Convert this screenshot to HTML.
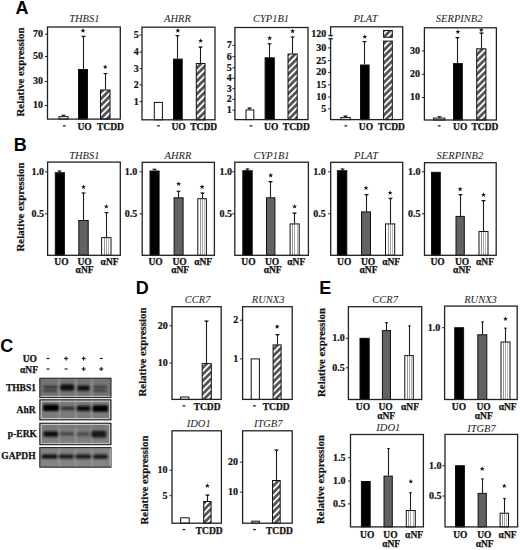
<!DOCTYPE html>
<html><head><meta charset="utf-8"><style>
html,body{margin:0;padding:0;background:#fff;}
body{width:520px;height:550px;overflow:hidden;}
svg{display:block;}
</style></head><body>
<svg width="520" height="550" viewBox="0 0 520 550">
<rect width="520" height="550" fill="#fff"/>
<defs>
<pattern id="hatch" patternUnits="userSpaceOnUse" width="4.6" height="4.6" patternTransform="rotate(45)"><rect width="4.6" height="4.6" fill="#555"/><rect x="0" y="0" width="1.8" height="4.6" fill="#fff"/></pattern>
<pattern id="vstripe" patternUnits="userSpaceOnUse" width="3.5" height="10"><rect width="3.5" height="10" fill="#fff"/><rect x="0" width="0.9" height="10" fill="#aaa"/></pattern>
<filter id="blur" x="-20%" y="-50%" width="140%" height="200%"><feGaussianBlur stdDeviation="0.8"/></filter>
</defs>
<text x="84.3" y="21.5" font-family='"Liberation Serif", serif' font-style="italic" font-size="10.5" text-anchor="middle" fill="#222">THBS1</text>
<line x1="63.5" y1="116.2" x2="63.5" y2="114.8" stroke="#1a1a1a" stroke-width="1.1"/>
<path d="M61.0,114.7 L66.0,114.7 L64.625,116.1 L62.375,116.1 Z" fill="#1a1a1a"/>
<rect x="59.0" y="116.7" width="9.0" height="2.3999999999999915" fill="#fff" stroke="#111" stroke-width="1"/>
<line x1="83.5" y1="69" x2="83.5" y2="35.9" stroke="#1a1a1a" stroke-width="1.1"/>
<path d="M81.0,35.8 L86.0,35.8 L84.625,37.199999999999996 L82.375,37.199999999999996 Z" fill="#1a1a1a"/>
<rect x="78.5" y="69.5" width="9" height="49.599999999999994" fill="#000" stroke="#111" stroke-width="1"/>
<polygon points="83.00,28.10 83.61,29.86 85.47,29.90 83.99,31.02 84.53,32.80 83.00,31.74 81.47,32.80 82.01,31.02 80.53,29.90 82.39,29.86" fill="#111"/>
<line x1="105.5" y1="89.5" x2="105.5" y2="73.0" stroke="#1a1a1a" stroke-width="1.1"/>
<path d="M103.0,72.9 L108.0,72.9 L106.625,74.3 L104.375,74.3 Z" fill="#1a1a1a"/>
<rect x="100.5" y="90.0" width="9.5" height="29.099999999999994" fill="url(#hatch)" stroke="#111" stroke-width="1"/>
<polygon points="105.25,64.40 105.86,66.16 107.72,66.20 106.24,67.32 106.78,69.10 105.25,68.04 103.72,69.10 104.26,67.32 102.78,66.20 104.64,66.16" fill="#111"/>
<rect x="47.5" y="27" width="72.8" height="92.1" fill="none" stroke="#222" stroke-width="1.3"/>
<line x1="45.0" y1="34.2" x2="47.5" y2="34.2" stroke="#222" stroke-width="1"/>
<text x="42.9" y="37.1" font-family='"Liberation Serif", serif' font-weight="bold" font-size="10" text-anchor="end" fill="#111" stroke="#111" stroke-width="0.2">70</text>
<line x1="45.0" y1="56.5" x2="47.5" y2="56.5" stroke="#222" stroke-width="1"/>
<text x="42.9" y="59.4" font-family='"Liberation Serif", serif' font-weight="bold" font-size="10" text-anchor="end" fill="#111" stroke="#111" stroke-width="0.2">50</text>
<line x1="45.0" y1="81.5" x2="47.5" y2="81.5" stroke="#222" stroke-width="1"/>
<text x="42.9" y="84.4" font-family='"Liberation Serif", serif' font-weight="bold" font-size="10" text-anchor="end" fill="#111" stroke="#111" stroke-width="0.2">30</text>
<line x1="45.0" y1="105.5" x2="47.5" y2="105.5" stroke="#222" stroke-width="1"/>
<text x="42.9" y="108.4" font-family='"Liberation Serif", serif' font-weight="bold" font-size="10" text-anchor="end" fill="#111" stroke="#111" stroke-width="0.2">10</text>
<rect x="62.9" y="125.2" width="2.8" height="1.3" fill="#222"/>
<text x="84.6" y="130.4" font-family='"Liberation Serif", serif' font-weight="bold" font-size="9.5" text-anchor="middle" fill="#111" stroke="#111" stroke-width="0.25">UO</text>
<text x="110.4" y="130.4" font-family='"Liberation Serif", serif' font-weight="bold" font-size="9.5" text-anchor="middle" fill="#111" stroke="#111" stroke-width="0.25">TCDD</text>
<text x="177.5" y="21.5" font-family='"Liberation Serif", serif' font-style="italic" font-size="10.5" text-anchor="middle" fill="#222">AHRR</text>
<rect x="154.3" y="102.4" width="8.099999999999994" height="17.39999999999999" fill="#fff" stroke="#111" stroke-width="1"/>
<line x1="177.5" y1="58.6" x2="177.5" y2="35.2" stroke="#1a1a1a" stroke-width="1.1"/>
<path d="M175.0,35.1 L180.0,35.1 L178.625,36.5 L176.375,36.5 Z" fill="#1a1a1a"/>
<rect x="173.5" y="59.1" width="8.699999999999989" height="60.699999999999996" fill="#000" stroke="#111" stroke-width="1"/>
<polygon points="177.85,28.00 178.46,29.76 180.32,29.80 178.84,30.92 179.38,32.70 177.85,31.64 176.32,32.70 176.86,30.92 175.38,29.80 177.24,29.76" fill="#111"/>
<line x1="200.5" y1="63" x2="200.5" y2="46.6" stroke="#1a1a1a" stroke-width="1.1"/>
<path d="M198.0,46.5 L203.0,46.5 L201.625,47.9 L199.375,47.9 Z" fill="#1a1a1a"/>
<rect x="196.3" y="63.5" width="8.699999999999989" height="56.3" fill="url(#hatch)" stroke="#111" stroke-width="1"/>
<polygon points="200.65,38.20 201.26,39.96 203.12,40.00 201.64,41.12 202.18,42.90 200.65,41.84 199.12,42.90 199.66,41.12 198.18,40.00 200.04,39.96" fill="#111"/>
<rect x="142" y="27.2" width="73" height="92.6" fill="none" stroke="#222" stroke-width="1.3"/>
<line x1="139.5" y1="35.1" x2="142" y2="35.1" stroke="#222" stroke-width="1"/>
<text x="138.7" y="38.0" font-family='"Liberation Serif", serif' font-weight="bold" font-size="10" text-anchor="end" fill="#111" stroke="#111" stroke-width="0.2">5</text>
<line x1="139.5" y1="52.1" x2="142" y2="52.1" stroke="#222" stroke-width="1"/>
<text x="138.7" y="55.0" font-family='"Liberation Serif", serif' font-weight="bold" font-size="10" text-anchor="end" fill="#111" stroke="#111" stroke-width="0.2">4</text>
<line x1="139.5" y1="68.6" x2="142" y2="68.6" stroke="#222" stroke-width="1"/>
<text x="138.7" y="71.5" font-family='"Liberation Serif", serif' font-weight="bold" font-size="10" text-anchor="end" fill="#111" stroke="#111" stroke-width="0.2">3</text>
<line x1="139.5" y1="84.9" x2="142" y2="84.9" stroke="#222" stroke-width="1"/>
<text x="138.7" y="87.80000000000001" font-family='"Liberation Serif", serif' font-weight="bold" font-size="10" text-anchor="end" fill="#111" stroke="#111" stroke-width="0.2">2</text>
<line x1="139.5" y1="101.6" x2="142" y2="101.6" stroke="#222" stroke-width="1"/>
<text x="138.7" y="104.5" font-family='"Liberation Serif", serif' font-weight="bold" font-size="10" text-anchor="end" fill="#111" stroke="#111" stroke-width="0.2">1</text>
<rect x="157.1" y="125.2" width="2.8" height="1.3" fill="#222"/>
<text x="178.5" y="130.4" font-family='"Liberation Serif", serif' font-weight="bold" font-size="9.5" text-anchor="middle" fill="#111" stroke="#111" stroke-width="0.25">UO</text>
<text x="203.7" y="130.4" font-family='"Liberation Serif", serif' font-weight="bold" font-size="9.5" text-anchor="middle" fill="#111" stroke="#111" stroke-width="0.25">TCDD</text>
<text x="271" y="21.5" font-family='"Liberation Serif", serif' font-style="italic" font-size="10.5" text-anchor="middle" fill="#222">CYP1B1</text>
<line x1="249.5" y1="109.4" x2="249.5" y2="107.7" stroke="#1a1a1a" stroke-width="1.1"/>
<path d="M247.0,107.60000000000001 L252.0,107.60000000000001 L250.625,109.0 L248.375,109.0 Z" fill="#1a1a1a"/>
<rect x="246.0" y="109.9" width="7.800000000000011" height="9.699999999999989" fill="#fff" stroke="#111" stroke-width="1"/>
<line x1="269.5" y1="57.3" x2="269.5" y2="43.3" stroke="#1a1a1a" stroke-width="1.1"/>
<path d="M267.0,43.199999999999996 L272.0,43.199999999999996 L270.625,44.599999999999994 L268.375,44.599999999999994 Z" fill="#1a1a1a"/>
<rect x="265.1" y="57.8" width="9.199999999999989" height="61.8" fill="#000" stroke="#111" stroke-width="1"/>
<polygon points="269.70,35.60 270.31,37.36 272.17,37.40 270.69,38.52 271.23,40.30 269.70,39.24 268.17,40.30 268.71,38.52 267.23,37.40 269.09,37.36" fill="#111"/>
<line x1="292.5" y1="53.5" x2="292.5" y2="36.5" stroke="#1a1a1a" stroke-width="1.1"/>
<path d="M290.0,36.4 L295.0,36.4 L293.625,37.8 L291.375,37.8 Z" fill="#1a1a1a"/>
<rect x="288.0" y="54.0" width="9.199999999999989" height="65.6" fill="url(#hatch)" stroke="#111" stroke-width="1"/>
<polygon points="292.60,28.50 293.21,30.26 295.07,30.30 293.59,31.42 294.13,33.20 292.60,32.14 291.07,33.20 291.61,31.42 290.13,30.30 291.99,30.26" fill="#111"/>
<rect x="234.9" y="27.5" width="73.1" height="92.1" fill="none" stroke="#222" stroke-width="1.3"/>
<line x1="232.4" y1="45.4" x2="234.9" y2="45.4" stroke="#222" stroke-width="1"/>
<text x="231.70000000000002" y="48.3" font-family='"Liberation Serif", serif' font-weight="bold" font-size="10" text-anchor="end" fill="#111" stroke="#111" stroke-width="0.2">7</text>
<line x1="232.4" y1="56.7" x2="234.9" y2="56.7" stroke="#222" stroke-width="1"/>
<text x="231.70000000000002" y="59.6" font-family='"Liberation Serif", serif' font-weight="bold" font-size="10" text-anchor="end" fill="#111" stroke="#111" stroke-width="0.2">6</text>
<line x1="232.4" y1="67.8" x2="234.9" y2="67.8" stroke="#222" stroke-width="1"/>
<text x="231.70000000000002" y="70.7" font-family='"Liberation Serif", serif' font-weight="bold" font-size="10" text-anchor="end" fill="#111" stroke="#111" stroke-width="0.2">5</text>
<line x1="232.4" y1="78.3" x2="234.9" y2="78.3" stroke="#222" stroke-width="1"/>
<text x="231.70000000000002" y="81.2" font-family='"Liberation Serif", serif' font-weight="bold" font-size="10" text-anchor="end" fill="#111" stroke="#111" stroke-width="0.2">4</text>
<line x1="232.4" y1="88.6" x2="234.9" y2="88.6" stroke="#222" stroke-width="1"/>
<text x="231.70000000000002" y="91.5" font-family='"Liberation Serif", serif' font-weight="bold" font-size="10" text-anchor="end" fill="#111" stroke="#111" stroke-width="0.2">3</text>
<line x1="232.4" y1="99.4" x2="234.9" y2="99.4" stroke="#222" stroke-width="1"/>
<text x="231.70000000000002" y="102.30000000000001" font-family='"Liberation Serif", serif' font-weight="bold" font-size="10" text-anchor="end" fill="#111" stroke="#111" stroke-width="0.2">2</text>
<line x1="232.4" y1="110.2" x2="234.9" y2="110.2" stroke="#222" stroke-width="1"/>
<text x="231.70000000000002" y="113.10000000000001" font-family='"Liberation Serif", serif' font-weight="bold" font-size="10" text-anchor="end" fill="#111" stroke="#111" stroke-width="0.2">1</text>
<rect x="249.6" y="125.2" width="2.8" height="1.3" fill="#222"/>
<text x="271.2" y="130.4" font-family='"Liberation Serif", serif' font-weight="bold" font-size="9.5" text-anchor="middle" fill="#111" stroke="#111" stroke-width="0.25">UO</text>
<text x="296.3" y="130.4" font-family='"Liberation Serif", serif' font-weight="bold" font-size="9.5" text-anchor="middle" fill="#111" stroke="#111" stroke-width="0.25">TCDD</text>
<text x="365.5" y="21.5" font-family='"Liberation Serif", serif' font-style="italic" font-size="10.5" text-anchor="middle" fill="#222">PLAT</text>
<line x1="345.5" y1="117.1" x2="345.5" y2="115.7" stroke="#1a1a1a" stroke-width="1.1"/>
<path d="M343.0,115.60000000000001 L348.0,115.60000000000001 L346.625,117.0 L344.375,117.0 Z" fill="#1a1a1a"/>
<rect x="340.9" y="117.6" width="9.400000000000034" height="2.0" fill="#fff" stroke="#111" stroke-width="1"/>
<line x1="364.5" y1="64.5" x2="364.5" y2="41.0" stroke="#1a1a1a" stroke-width="1.1"/>
<path d="M362.0,40.9 L367.0,40.9 L365.625,42.3 L363.375,42.3 Z" fill="#1a1a1a"/>
<rect x="360.5" y="65.0" width="8.600000000000023" height="54.599999999999994" fill="#000" stroke="#111" stroke-width="1"/>
<polygon points="364.80,34.20 365.41,35.96 367.27,36.00 365.79,37.12 366.33,38.90 364.80,37.84 363.27,38.90 363.81,37.12 362.33,36.00 364.19,35.96" fill="#111"/>
<rect x="330.6" y="26.8" width="72.09999999999997" height="92.8" fill="none" stroke="#222" stroke-width="1.3"/>
<text x="326.3" y="37.1" font-family='"Liberation Serif", serif' font-weight="bold" font-size="10" text-anchor="end" fill="#111" stroke="#111" stroke-width="0.2">120</text>
<line x1="328.1" y1="47.9" x2="330.6" y2="47.9" stroke="#222" stroke-width="1"/>
<text x="326.3" y="50.8" font-family='"Liberation Serif", serif' font-weight="bold" font-size="10" text-anchor="end" fill="#111" stroke="#111" stroke-width="0.2">30</text>
<line x1="328.1" y1="60.6" x2="330.6" y2="60.6" stroke="#222" stroke-width="1"/>
<text x="326.3" y="63.5" font-family='"Liberation Serif", serif' font-weight="bold" font-size="10" text-anchor="end" fill="#111" stroke="#111" stroke-width="0.2">25</text>
<line x1="328.1" y1="72.4" x2="330.6" y2="72.4" stroke="#222" stroke-width="1"/>
<text x="326.3" y="75.30000000000001" font-family='"Liberation Serif", serif' font-weight="bold" font-size="10" text-anchor="end" fill="#111" stroke="#111" stroke-width="0.2">20</text>
<line x1="328.1" y1="84.8" x2="330.6" y2="84.8" stroke="#222" stroke-width="1"/>
<text x="326.3" y="87.7" font-family='"Liberation Serif", serif' font-weight="bold" font-size="10" text-anchor="end" fill="#111" stroke="#111" stroke-width="0.2">15</text>
<line x1="328.1" y1="97" x2="330.6" y2="97" stroke="#222" stroke-width="1"/>
<text x="326.3" y="99.9" font-family='"Liberation Serif", serif' font-weight="bold" font-size="10" text-anchor="end" fill="#111" stroke="#111" stroke-width="0.2">10</text>
<line x1="328.1" y1="108.9" x2="330.6" y2="108.9" stroke="#222" stroke-width="1"/>
<text x="326.3" y="111.80000000000001" font-family='"Liberation Serif", serif' font-weight="bold" font-size="10" text-anchor="end" fill="#111" stroke="#111" stroke-width="0.2">5</text>
<rect x="344.5" y="125.2" width="2.8" height="1.3" fill="#222"/>
<text x="365.9" y="130.4" font-family='"Liberation Serif", serif' font-weight="bold" font-size="9.5" text-anchor="middle" fill="#111" stroke="#111" stroke-width="0.25">UO</text>
<text x="391.5" y="130.4" font-family='"Liberation Serif", serif' font-weight="bold" font-size="9.5" text-anchor="middle" fill="#111" stroke="#111" stroke-width="0.25">TCDD</text>
<rect x="329.6" y="36.2" width="2" height="2.1" fill="#fff"/>
<line x1="328.40000000000003" y1="35.6" x2="332.8" y2="35.6" stroke="#222" stroke-width="1.3"/>
<line x1="328.40000000000003" y1="38.8" x2="332.8" y2="38.8" stroke="#222" stroke-width="1.3"/>
<rect x="383.6" y="30.5" width="8.7" height="6.8" fill="url(#hatch)" stroke="#111" stroke-width="1"/>
<rect x="383.6" y="41.1" width="8.7" height="78.5" fill="url(#hatch)" stroke="#111" stroke-width="1"/>
<text x="459.2" y="21.5" font-family='"Liberation Serif", serif' font-style="italic" font-size="10.5" text-anchor="middle" fill="#222">SERPINB2</text>
<line x1="439.5" y1="117.6" x2="439.5" y2="116.3" stroke="#1a1a1a" stroke-width="1.1"/>
<path d="M437.0,116.2 L442.0,116.2 L440.625,117.6 L438.375,117.6 Z" fill="#1a1a1a"/>
<rect x="433.5" y="118.1" width="11.399999999999977" height="1.9000000000000057" fill="#fff" stroke="#111" stroke-width="1"/>
<line x1="457.5" y1="63.1" x2="457.5" y2="37.2" stroke="#1a1a1a" stroke-width="1.1"/>
<path d="M455.0,37.1 L460.0,37.1 L458.625,38.5 L456.375,38.5 Z" fill="#1a1a1a"/>
<rect x="453.5" y="63.6" width="8.800000000000011" height="56.4" fill="#000" stroke="#111" stroke-width="1"/>
<polygon points="457.90,29.20 458.51,30.96 460.37,31.00 458.89,32.12 459.43,33.90 457.90,32.84 456.37,33.90 456.91,32.12 455.43,31.00 457.29,30.96" fill="#111"/>
<line x1="481.5" y1="48.3" x2="481.5" y2="32.6" stroke="#1a1a1a" stroke-width="1.1"/>
<path d="M479.0,32.5 L484.0,32.5 L482.625,33.9 L480.375,33.9 Z" fill="#1a1a1a"/>
<rect x="476.7" y="48.8" width="9.199999999999989" height="71.2" fill="url(#hatch)" stroke="#111" stroke-width="1"/>
<polygon points="481.30,27.40 481.91,29.16 483.77,29.20 482.29,30.32 482.83,32.10 481.30,31.04 479.77,32.10 480.31,30.32 478.83,29.20 480.69,29.16" fill="#111"/>
<rect x="424.4" y="27.8" width="72.0" height="92.2" fill="none" stroke="#222" stroke-width="1.3"/>
<line x1="421.9" y1="50.9" x2="424.4" y2="50.9" stroke="#222" stroke-width="1"/>
<text x="420.0" y="53.8" font-family='"Liberation Serif", serif' font-weight="bold" font-size="10" text-anchor="end" fill="#111" stroke="#111" stroke-width="0.2">30</text>
<line x1="421.9" y1="74.3" x2="424.4" y2="74.3" stroke="#222" stroke-width="1"/>
<text x="420.0" y="77.2" font-family='"Liberation Serif", serif' font-weight="bold" font-size="10" text-anchor="end" fill="#111" stroke="#111" stroke-width="0.2">20</text>
<line x1="421.9" y1="97.5" x2="424.4" y2="97.5" stroke="#222" stroke-width="1"/>
<text x="420.0" y="100.4" font-family='"Liberation Serif", serif' font-weight="bold" font-size="10" text-anchor="end" fill="#111" stroke="#111" stroke-width="0.2">10</text>
<rect x="437.8" y="125.2" width="2.8" height="1.3" fill="#222"/>
<text x="460.2" y="130.4" font-family='"Liberation Serif", serif' font-weight="bold" font-size="9.5" text-anchor="middle" fill="#111" stroke="#111" stroke-width="0.25">UO</text>
<text x="485" y="130.4" font-family='"Liberation Serif", serif' font-weight="bold" font-size="9.5" text-anchor="middle" fill="#111" stroke="#111" stroke-width="0.25">TCDD</text>
<text x="84.3" y="158.8" font-family='"Liberation Serif", serif' font-style="italic" font-size="10.5" text-anchor="middle" fill="#222">THBS1</text>
<line x1="59.5" y1="172.2" x2="59.5" y2="170.5" stroke="#1a1a1a" stroke-width="1.1"/>
<path d="M57.0,170.4 L62.0,170.4 L60.625,171.8 L58.375,171.8 Z" fill="#1a1a1a"/>
<rect x="55.3" y="172.7" width="9.100000000000009" height="82.60000000000002" fill="#000" stroke="#111" stroke-width="1"/>
<line x1="83.5" y1="220" x2="83.5" y2="192.5" stroke="#1a1a1a" stroke-width="1.1"/>
<path d="M81.0,192.4 L86.0,192.4 L84.625,193.8 L82.375,193.8 Z" fill="#1a1a1a"/>
<rect x="78.8" y="220.5" width="9.400000000000006" height="34.80000000000001" fill="#626262" stroke="#111" stroke-width="1"/>
<polygon points="83.50,184.40 84.11,186.16 85.97,186.20 84.49,187.32 85.03,189.10 83.50,188.04 81.97,189.10 82.51,187.32 81.03,186.20 82.89,186.16" fill="#111"/>
<line x1="106.5" y1="237.1" x2="106.5" y2="212.0" stroke="#1a1a1a" stroke-width="1.1"/>
<path d="M104.0,211.9 L109.0,211.9 L107.625,213.3 L105.375,213.3 Z" fill="#1a1a1a"/>
<rect x="101.6" y="237.6" width="9.400000000000006" height="17.700000000000017" fill="#fff"/>
<rect x="104" y="237.6" width="1" height="17.700000000000017" fill="#959595"/>
<rect x="106" y="237.6" width="1" height="17.700000000000017" fill="#a5a5a5"/>
<rect x="108" y="237.6" width="1" height="17.700000000000017" fill="#b8b8b8"/>
<rect x="101.6" y="237.6" width="9.400000000000006" height="17.700000000000017" fill="none" stroke="#111" stroke-width="1"/>
<polygon points="106.30,203.90 106.91,205.66 108.77,205.70 107.29,206.82 107.83,208.60 106.30,207.54 104.77,208.60 105.31,206.82 103.83,205.70 105.69,205.66" fill="#111"/>
<rect x="47.6" y="162.1" width="72.69999999999999" height="93.20000000000002" fill="none" stroke="#222" stroke-width="1.3"/>
<line x1="45.1" y1="171.8" x2="47.6" y2="171.8" stroke="#222" stroke-width="1"/>
<text x="43.9" y="174.70000000000002" font-family='"Liberation Serif", serif' font-weight="bold" font-size="10" text-anchor="end" fill="#111" stroke="#111" stroke-width="0.2">1.0</text>
<line x1="45.1" y1="213.8" x2="47.6" y2="213.8" stroke="#222" stroke-width="1"/>
<text x="43.9" y="216.70000000000002" font-family='"Liberation Serif", serif' font-weight="bold" font-size="10" text-anchor="end" fill="#111" stroke="#111" stroke-width="0.2">0.5</text>
<text x="61.4" y="264.6" font-family='"Liberation Serif", serif' font-weight="bold" font-size="9.5" text-anchor="middle" fill="#111" stroke="#111" stroke-width="0.25">UO</text>
<text x="84.6" y="264.6" font-family='"Liberation Serif", serif' font-weight="bold" font-size="9.5" text-anchor="middle" fill="#111" stroke="#111" stroke-width="0.25">UO</text>
<text x="84.6" y="273.2" font-family='"Liberation Serif", serif' font-weight="bold" font-size="9.5" text-anchor="middle" fill="#111" stroke="#111" stroke-width="0.25">αNF</text>
<text x="109.6" y="264.6" font-family='"Liberation Serif", serif' font-weight="bold" font-size="9.5" text-anchor="middle" fill="#111" stroke="#111" stroke-width="0.25">αNF</text>
<text x="178" y="158.8" font-family='"Liberation Serif", serif' font-style="italic" font-size="10.5" text-anchor="middle" fill="#222">AHRR</text>
<line x1="154.5" y1="170.5" x2="154.5" y2="168.8" stroke="#1a1a1a" stroke-width="1.1"/>
<path d="M152.0,168.70000000000002 L157.0,168.70000000000002 L155.625,170.10000000000002 L153.375,170.10000000000002 Z" fill="#1a1a1a"/>
<rect x="150.0" y="171.0" width="9.099999999999994" height="84.30000000000001" fill="#000" stroke="#111" stroke-width="1"/>
<line x1="178.5" y1="197.3" x2="178.5" y2="190.8" stroke="#1a1a1a" stroke-width="1.1"/>
<path d="M176.0,190.70000000000002 L181.0,190.70000000000002 L179.625,192.10000000000002 L177.375,192.10000000000002 Z" fill="#1a1a1a"/>
<rect x="174.1" y="197.8" width="9.0" height="57.5" fill="#626262" stroke="#111" stroke-width="1"/>
<polygon points="178.60,181.20 179.21,182.96 181.07,183.00 179.59,184.12 180.13,185.90 178.60,184.84 177.07,185.90 177.61,184.12 176.13,183.00 177.99,182.96" fill="#111"/>
<line x1="202.5" y1="198.2" x2="202.5" y2="192.6" stroke="#1a1a1a" stroke-width="1.1"/>
<path d="M200.0,192.5 L205.0,192.5 L203.625,193.9 L201.375,193.9 Z" fill="#1a1a1a"/>
<rect x="197.8" y="198.7" width="8.599999999999994" height="56.60000000000002" fill="#fff"/>
<rect x="200" y="198.7" width="1" height="56.60000000000002" fill="#959595"/>
<rect x="202" y="198.7" width="1" height="56.60000000000002" fill="#a5a5a5"/>
<rect x="204" y="198.7" width="1" height="56.60000000000002" fill="#b8b8b8"/>
<rect x="197.8" y="198.7" width="8.599999999999994" height="56.60000000000002" fill="none" stroke="#111" stroke-width="1"/>
<polygon points="202.10,184.30 202.71,186.06 204.57,186.10 203.09,187.22 203.63,189.00 202.10,187.94 200.57,189.00 201.11,187.22 199.63,186.10 201.49,186.06" fill="#111"/>
<rect x="142.2" y="162.3" width="72.20000000000002" height="93.0" fill="none" stroke="#222" stroke-width="1.3"/>
<line x1="139.7" y1="171.8" x2="142.2" y2="171.8" stroke="#222" stroke-width="1"/>
<text x="137.2" y="174.70000000000002" font-family='"Liberation Serif", serif' font-weight="bold" font-size="10" text-anchor="end" fill="#111" stroke="#111" stroke-width="0.2">1.0</text>
<line x1="139.7" y1="213.8" x2="142.2" y2="213.8" stroke="#222" stroke-width="1"/>
<text x="137.2" y="216.70000000000002" font-family='"Liberation Serif", serif' font-weight="bold" font-size="10" text-anchor="end" fill="#111" stroke="#111" stroke-width="0.2">0.5</text>
<text x="155.6" y="264.6" font-family='"Liberation Serif", serif' font-weight="bold" font-size="9.5" text-anchor="middle" fill="#111" stroke="#111" stroke-width="0.25">UO</text>
<text x="179.6" y="264.6" font-family='"Liberation Serif", serif' font-weight="bold" font-size="9.5" text-anchor="middle" fill="#111" stroke="#111" stroke-width="0.25">UO</text>
<text x="180.2" y="273.2" font-family='"Liberation Serif", serif' font-weight="bold" font-size="9.5" text-anchor="middle" fill="#111" stroke="#111" stroke-width="0.25">αNF</text>
<text x="203.2" y="264.6" font-family='"Liberation Serif", serif' font-weight="bold" font-size="9.5" text-anchor="middle" fill="#111" stroke="#111" stroke-width="0.25">αNF</text>
<text x="271.5" y="158.8" font-family='"Liberation Serif", serif' font-style="italic" font-size="10.5" text-anchor="middle" fill="#222">CYP1B1</text>
<line x1="247.5" y1="170.2" x2="247.5" y2="168.5" stroke="#1a1a1a" stroke-width="1.1"/>
<path d="M245.0,168.4 L250.0,168.4 L248.625,169.8 L246.375,169.8 Z" fill="#1a1a1a"/>
<rect x="242.8" y="170.7" width="9.399999999999977" height="84.60000000000002" fill="#000" stroke="#111" stroke-width="1"/>
<line x1="270.5" y1="197.3" x2="270.5" y2="181.2" stroke="#1a1a1a" stroke-width="1.1"/>
<path d="M268.0,181.1 L273.0,181.1 L271.625,182.5 L269.375,182.5 Z" fill="#1a1a1a"/>
<rect x="266.5" y="197.8" width="8.399999999999977" height="57.5" fill="#626262" stroke="#111" stroke-width="1"/>
<polygon points="270.70,172.80 271.31,174.56 273.17,174.60 271.69,175.72 272.23,177.50 270.70,176.44 269.17,177.50 269.71,175.72 268.23,174.60 270.09,174.56" fill="#111"/>
<line x1="294.5" y1="223.4" x2="294.5" y2="212.7" stroke="#1a1a1a" stroke-width="1.1"/>
<path d="M292.0,212.6 L297.0,212.6 L295.625,214.0 L293.375,214.0 Z" fill="#1a1a1a"/>
<rect x="290.1" y="223.9" width="9.099999999999966" height="31.400000000000006" fill="#fff"/>
<rect x="292" y="223.9" width="1" height="31.400000000000006" fill="#959595"/>
<rect x="294" y="223.9" width="1" height="31.400000000000006" fill="#a5a5a5"/>
<rect x="297" y="223.9" width="1" height="31.400000000000006" fill="#b8b8b8"/>
<rect x="290.1" y="223.9" width="9.099999999999966" height="31.400000000000006" fill="none" stroke="#111" stroke-width="1"/>
<polygon points="294.65,203.90 295.26,205.66 297.12,205.70 295.64,206.82 296.18,208.60 294.65,207.54 293.12,208.60 293.66,206.82 292.18,205.70 294.04,205.66" fill="#111"/>
<rect x="234.8" y="162.2" width="73.59999999999997" height="93.10000000000002" fill="none" stroke="#222" stroke-width="1.3"/>
<line x1="232.3" y1="171.8" x2="234.8" y2="171.8" stroke="#222" stroke-width="1"/>
<text x="231.9" y="174.70000000000002" font-family='"Liberation Serif", serif' font-weight="bold" font-size="10" text-anchor="end" fill="#111" stroke="#111" stroke-width="0.2">1.0</text>
<line x1="232.3" y1="213.8" x2="234.8" y2="213.8" stroke="#222" stroke-width="1"/>
<text x="231.9" y="216.70000000000002" font-family='"Liberation Serif", serif' font-weight="bold" font-size="10" text-anchor="end" fill="#111" stroke="#111" stroke-width="0.2">0.5</text>
<text x="248.4" y="264.6" font-family='"Liberation Serif", serif' font-weight="bold" font-size="9.5" text-anchor="middle" fill="#111" stroke="#111" stroke-width="0.25">UO</text>
<text x="272" y="264.6" font-family='"Liberation Serif", serif' font-weight="bold" font-size="9.5" text-anchor="middle" fill="#111" stroke="#111" stroke-width="0.25">UO</text>
<text x="272.7" y="273.2" font-family='"Liberation Serif", serif' font-weight="bold" font-size="9.5" text-anchor="middle" fill="#111" stroke="#111" stroke-width="0.25">αNF</text>
<text x="296.3" y="264.6" font-family='"Liberation Serif", serif' font-weight="bold" font-size="9.5" text-anchor="middle" fill="#111" stroke="#111" stroke-width="0.25">αNF</text>
<text x="366.1" y="158.8" font-family='"Liberation Serif", serif' font-style="italic" font-size="10.5" text-anchor="middle" fill="#222">PLAT</text>
<line x1="342.5" y1="170.2" x2="342.5" y2="168.5" stroke="#1a1a1a" stroke-width="1.1"/>
<path d="M340.0,168.4 L345.0,168.4 L343.625,169.8 L341.375,169.8 Z" fill="#1a1a1a"/>
<rect x="337.4" y="170.7" width="9.400000000000034" height="84.60000000000002" fill="#000" stroke="#111" stroke-width="1"/>
<line x1="366.5" y1="211.4" x2="366.5" y2="194.1" stroke="#1a1a1a" stroke-width="1.1"/>
<path d="M364.0,194.0 L369.0,194.0 L367.625,195.4 L365.375,195.4 Z" fill="#1a1a1a"/>
<rect x="361.5" y="211.9" width="9" height="43.400000000000006" fill="#626262" stroke="#111" stroke-width="1"/>
<polygon points="366.00,185.40 366.61,187.16 368.47,187.20 366.99,188.32 367.53,190.10 366.00,189.04 364.47,190.10 365.01,188.32 363.53,187.20 365.39,187.16" fill="#111"/>
<line x1="390.5" y1="223.4" x2="390.5" y2="197.9" stroke="#1a1a1a" stroke-width="1.1"/>
<path d="M388.0,197.8 L393.0,197.8 L391.625,199.20000000000002 L389.375,199.20000000000002 Z" fill="#1a1a1a"/>
<rect x="385.5" y="223.9" width="9.199999999999989" height="31.400000000000006" fill="#fff"/>
<rect x="388" y="223.9" width="1" height="31.400000000000006" fill="#959595"/>
<rect x="390" y="223.9" width="1" height="31.400000000000006" fill="#a5a5a5"/>
<rect x="392" y="223.9" width="1" height="31.400000000000006" fill="#b8b8b8"/>
<rect x="385.5" y="223.9" width="9.199999999999989" height="31.400000000000006" fill="none" stroke="#111" stroke-width="1"/>
<polygon points="390.10,190.20 390.71,191.96 392.57,192.00 391.09,193.12 391.63,194.90 390.10,193.84 388.57,194.90 389.11,193.12 387.63,192.00 389.49,191.96" fill="#111"/>
<rect x="330.7" y="162.3" width="72.0" height="93.0" fill="none" stroke="#222" stroke-width="1.3"/>
<line x1="328.2" y1="171.8" x2="330.7" y2="171.8" stroke="#222" stroke-width="1"/>
<text x="325.7" y="174.70000000000002" font-family='"Liberation Serif", serif' font-weight="bold" font-size="10" text-anchor="end" fill="#111" stroke="#111" stroke-width="0.2">1.0</text>
<line x1="328.2" y1="213.8" x2="330.7" y2="213.8" stroke="#222" stroke-width="1"/>
<text x="325.7" y="216.70000000000002" font-family='"Liberation Serif", serif' font-weight="bold" font-size="10" text-anchor="end" fill="#111" stroke="#111" stroke-width="0.2">0.5</text>
<text x="344.2" y="264.6" font-family='"Liberation Serif", serif' font-weight="bold" font-size="9.5" text-anchor="middle" fill="#111" stroke="#111" stroke-width="0.25">UO</text>
<text x="368" y="264.6" font-family='"Liberation Serif", serif' font-weight="bold" font-size="9.5" text-anchor="middle" fill="#111" stroke="#111" stroke-width="0.25">UO</text>
<text x="368.5" y="273.2" font-family='"Liberation Serif", serif' font-weight="bold" font-size="9.5" text-anchor="middle" fill="#111" stroke="#111" stroke-width="0.25">αNF</text>
<text x="391.2" y="264.6" font-family='"Liberation Serif", serif' font-weight="bold" font-size="9.5" text-anchor="middle" fill="#111" stroke="#111" stroke-width="0.25">αNF</text>
<text x="459.9" y="158.8" font-family='"Liberation Serif", serif' font-style="italic" font-size="10.5" text-anchor="middle" fill="#222">SERPINB2</text>
<rect x="431.5" y="172.3" width="8.800000000000011" height="83.0" fill="#000" stroke="#111" stroke-width="1"/>
<line x1="460.5" y1="215.9" x2="460.5" y2="194.1" stroke="#1a1a1a" stroke-width="1.1"/>
<path d="M458.0,194.0 L463.0,194.0 L461.625,195.4 L459.375,195.4 Z" fill="#1a1a1a"/>
<rect x="456.0" y="216.4" width="8.300000000000011" height="38.900000000000006" fill="#626262" stroke="#111" stroke-width="1"/>
<polygon points="460.15,186.60 460.76,188.36 462.62,188.40 461.14,189.52 461.68,191.30 460.15,190.24 458.62,191.30 459.16,189.52 457.68,188.40 459.54,188.36" fill="#111"/>
<line x1="483.5" y1="231" x2="483.5" y2="200.1" stroke="#1a1a1a" stroke-width="1.1"/>
<path d="M481.0,200.0 L486.0,200.0 L484.625,201.4 L482.375,201.4 Z" fill="#1a1a1a"/>
<rect x="479.0" y="231.5" width="9.0" height="23.80000000000001" fill="#fff"/>
<rect x="481" y="231.5" width="1" height="23.80000000000001" fill="#959595"/>
<rect x="483" y="231.5" width="1" height="23.80000000000001" fill="#a5a5a5"/>
<rect x="485" y="231.5" width="1" height="23.80000000000001" fill="#b8b8b8"/>
<rect x="479.0" y="231.5" width="9.0" height="23.80000000000001" fill="none" stroke="#111" stroke-width="1"/>
<polygon points="483.50,192.20 484.11,193.96 485.97,194.00 484.49,195.12 485.03,196.90 483.50,195.84 481.97,196.90 482.51,195.12 481.03,194.00 482.89,193.96" fill="#111"/>
<rect x="424.5" y="162.7" width="71.69999999999999" height="92.60000000000002" fill="none" stroke="#222" stroke-width="1.3"/>
<line x1="422.0" y1="171.8" x2="424.5" y2="171.8" stroke="#222" stroke-width="1"/>
<text x="420.4" y="174.70000000000002" font-family='"Liberation Serif", serif' font-weight="bold" font-size="10" text-anchor="end" fill="#111" stroke="#111" stroke-width="0.2">1.0</text>
<line x1="422.0" y1="213.8" x2="424.5" y2="213.8" stroke="#222" stroke-width="1"/>
<text x="420.4" y="216.70000000000002" font-family='"Liberation Serif", serif' font-weight="bold" font-size="10" text-anchor="end" fill="#111" stroke="#111" stroke-width="0.2">0.5</text>
<text x="437.5" y="264.6" font-family='"Liberation Serif", serif' font-weight="bold" font-size="9.5" text-anchor="middle" fill="#111" stroke="#111" stroke-width="0.25">UO</text>
<text x="462" y="264.6" font-family='"Liberation Serif", serif' font-weight="bold" font-size="9.5" text-anchor="middle" fill="#111" stroke="#111" stroke-width="0.25">UO</text>
<text x="462.1" y="273.2" font-family='"Liberation Serif", serif' font-weight="bold" font-size="9.5" text-anchor="middle" fill="#111" stroke="#111" stroke-width="0.25">αNF</text>
<text x="485" y="264.6" font-family='"Liberation Serif", serif' font-weight="bold" font-size="9.5" text-anchor="middle" fill="#111" stroke="#111" stroke-width="0.25">αNF</text>
<text x="197.6" y="302.7" font-family='"Liberation Serif", serif' font-style="italic" font-size="10.5" text-anchor="middle" fill="#222">CCR7</text>
<rect x="180.6" y="397.0" width="8.200000000000017" height="2.3999999999999773" fill="#fff" stroke="#111" stroke-width="1"/>
<line x1="206.5" y1="363.1" x2="206.5" y2="320.7" stroke="#1a1a1a" stroke-width="1.1"/>
<path d="M204.0,320.59999999999997 L209.0,320.59999999999997 L207.625,322.0 L205.375,322.0 Z" fill="#1a1a1a"/>
<rect x="202.2" y="363.6" width="9.100000000000023" height="35.799999999999955" fill="url(#hatch)" stroke="#111" stroke-width="1"/>
<rect x="172" y="306.7" width="49.19999999999999" height="92.69999999999999" fill="none" stroke="#222" stroke-width="1.3"/>
<line x1="169.5" y1="325.8" x2="172" y2="325.8" stroke="#222" stroke-width="1"/>
<text x="167.7" y="328.7" font-family='"Liberation Serif", serif' font-weight="bold" font-size="10" text-anchor="end" fill="#111" stroke="#111" stroke-width="0.2">20</text>
<line x1="169.5" y1="363.1" x2="172" y2="363.1" stroke="#222" stroke-width="1"/>
<text x="167.7" y="366.0" font-family='"Liberation Serif", serif' font-weight="bold" font-size="10" text-anchor="end" fill="#111" stroke="#111" stroke-width="0.2">10</text>
<rect x="182.5" y="405.2" width="2.8" height="1.3" fill="#222"/>
<text x="207.1" y="410.4" font-family='"Liberation Serif", serif' font-weight="bold" font-size="9.5" text-anchor="middle" fill="#111" stroke="#111" stroke-width="0.25">TCDD</text>
<text x="268.2" y="303" font-family='"Liberation Serif", serif' font-style="italic" font-size="10.5" text-anchor="middle" fill="#222">RUNX3</text>
<rect x="251.2" y="358.9" width="8.199999999999989" height="40.5" fill="#fff" stroke="#111" stroke-width="1"/>
<line x1="277.5" y1="344.4" x2="277.5" y2="334.2" stroke="#1a1a1a" stroke-width="1.1"/>
<path d="M275.0,334.09999999999997 L280.0,334.09999999999997 L278.625,335.5 L276.375,335.5 Z" fill="#1a1a1a"/>
<rect x="273.1" y="344.9" width="8.0" height="54.5" fill="url(#hatch)" stroke="#111" stroke-width="1"/>
<polygon points="277.10,324.00 277.71,325.76 279.57,325.80 278.09,326.92 278.63,328.70 277.10,327.64 275.57,328.70 276.11,326.92 274.63,325.80 276.49,325.76" fill="#111"/>
<rect x="242.6" y="306.7" width="49.599999999999994" height="92.69999999999999" fill="none" stroke="#222" stroke-width="1.3"/>
<line x1="240.1" y1="320.2" x2="242.6" y2="320.2" stroke="#222" stroke-width="1"/>
<text x="238.2" y="323.09999999999997" font-family='"Liberation Serif", serif' font-weight="bold" font-size="10" text-anchor="end" fill="#111" stroke="#111" stroke-width="0.2">2</text>
<line x1="240.1" y1="358.9" x2="242.6" y2="358.9" stroke="#222" stroke-width="1"/>
<text x="238.2" y="361.79999999999995" font-family='"Liberation Serif", serif' font-weight="bold" font-size="10" text-anchor="end" fill="#111" stroke="#111" stroke-width="0.2">1</text>
<rect x="253.0" y="405.2" width="2.8" height="1.3" fill="#222"/>
<text x="276.2" y="410.4" font-family='"Liberation Serif", serif' font-weight="bold" font-size="9.5" text-anchor="middle" fill="#111" stroke="#111" stroke-width="0.25">TCDD</text>
<text x="198.7" y="427.2" font-family='"Liberation Serif", serif' font-style="italic" font-size="10.5" text-anchor="middle" fill="#222">IDO1</text>
<rect x="180.6" y="517.8" width="8.599999999999994" height="5.400000000000091" fill="#fff" stroke="#111" stroke-width="1"/>
<line x1="207.5" y1="501" x2="207.5" y2="494.7" stroke="#1a1a1a" stroke-width="1.1"/>
<path d="M205.0,494.59999999999997 L210.0,494.59999999999997 L208.625,496.0 L206.375,496.0 Z" fill="#1a1a1a"/>
<rect x="203.7" y="501.5" width="7.400000000000006" height="21.700000000000045" fill="url(#hatch)" stroke="#111" stroke-width="1"/>
<polygon points="207.40,483.20 208.01,484.96 209.87,485.00 208.39,486.12 208.93,487.90 207.40,486.84 205.87,487.90 206.41,486.12 204.93,485.00 206.79,484.96" fill="#111"/>
<rect x="172" y="430.8" width="49.400000000000006" height="92.40000000000003" fill="none" stroke="#222" stroke-width="1.3"/>
<line x1="169.5" y1="470.3" x2="172" y2="470.3" stroke="#222" stroke-width="1"/>
<text x="167.4" y="473.2" font-family='"Liberation Serif", serif' font-weight="bold" font-size="10" text-anchor="end" fill="#111" stroke="#111" stroke-width="0.2">10</text>
<line x1="169.5" y1="495.7" x2="172" y2="495.7" stroke="#222" stroke-width="1"/>
<text x="167.4" y="498.59999999999997" font-family='"Liberation Serif", serif' font-weight="bold" font-size="10" text-anchor="end" fill="#111" stroke="#111" stroke-width="0.2">5</text>
<rect x="182.5" y="528.9" width="2.8" height="1.3" fill="#222"/>
<text x="209.2" y="534.1" font-family='"Liberation Serif", serif' font-weight="bold" font-size="9.5" text-anchor="middle" fill="#111" stroke="#111" stroke-width="0.25">TCDD</text>
<text x="268.2" y="427.2" font-family='"Liberation Serif", serif' font-style="italic" font-size="10.5" text-anchor="middle" fill="#222">ITGB7</text>
<rect x="251.8" y="521.2" width="7.599999999999966" height="2.0" fill="#fff" stroke="#111" stroke-width="1"/>
<line x1="276.5" y1="480" x2="276.5" y2="449.7" stroke="#1a1a1a" stroke-width="1.1"/>
<path d="M274.0,449.59999999999997 L279.0,449.59999999999997 L277.625,451.0 L275.375,451.0 Z" fill="#1a1a1a"/>
<rect x="272.5" y="480.5" width="7.699999999999989" height="42.700000000000045" fill="url(#hatch)" stroke="#111" stroke-width="1"/>
<rect x="242.6" y="430.8" width="49.599999999999994" height="92.40000000000003" fill="none" stroke="#222" stroke-width="1.3"/>
<line x1="240.1" y1="462.2" x2="242.6" y2="462.2" stroke="#222" stroke-width="1"/>
<text x="238.0" y="465.09999999999997" font-family='"Liberation Serif", serif' font-weight="bold" font-size="10" text-anchor="end" fill="#111" stroke="#111" stroke-width="0.2">20</text>
<line x1="240.1" y1="492.2" x2="242.6" y2="492.2" stroke="#222" stroke-width="1"/>
<text x="238.0" y="495.09999999999997" font-family='"Liberation Serif", serif' font-weight="bold" font-size="10" text-anchor="end" fill="#111" stroke="#111" stroke-width="0.2">10</text>
<rect x="253.0" y="528.9" width="2.8" height="1.3" fill="#222"/>
<text x="279.4" y="534.1" font-family='"Liberation Serif", serif' font-weight="bold" font-size="9.5" text-anchor="middle" fill="#111" stroke="#111" stroke-width="0.25">TCDD</text>
<text x="385.2" y="302.7" font-family='"Liberation Serif", serif' font-style="italic" font-size="10.5" text-anchor="middle" fill="#222">CCR7</text>
<rect x="360.0" y="338.3" width="9.199999999999989" height="61.19999999999999" fill="#000" stroke="#111" stroke-width="1"/>
<line x1="386.5" y1="330.1" x2="386.5" y2="322.2" stroke="#1a1a1a" stroke-width="1.1"/>
<path d="M384.9,322.09999999999997 L388.1,322.09999999999997 L387.22,323.5 L385.78,323.5 Z" fill="#1a1a1a"/>
<rect x="382.4" y="330.6" width="8.100000000000023" height="68.89999999999998" fill="#626262" stroke="#111" stroke-width="1"/>
<line x1="409.5" y1="355.1" x2="409.5" y2="325.5" stroke="#1a1a1a" stroke-width="1.1"/>
<path d="M407.9,325.4 L411.1,325.4 L410.22,326.8 L408.78,326.8 Z" fill="#1a1a1a"/>
<rect x="404.8" y="355.6" width="8.5" height="43.89999999999998" fill="#fff"/>
<rect x="407" y="355.6" width="1" height="43.89999999999998" fill="#959595"/>
<rect x="409" y="355.6" width="1" height="43.89999999999998" fill="#a5a5a5"/>
<rect x="411" y="355.6" width="1" height="43.89999999999998" fill="#b8b8b8"/>
<rect x="404.8" y="355.6" width="8.5" height="43.89999999999998" fill="none" stroke="#111" stroke-width="1"/>
<rect x="348.4" y="306.7" width="73.30000000000001" height="92.80000000000001" fill="none" stroke="#222" stroke-width="1.3"/>
<line x1="345.9" y1="338.3" x2="348.4" y2="338.3" stroke="#222" stroke-width="1"/>
<text x="344.79999999999995" y="341.2" font-family='"Liberation Serif", serif' font-weight="bold" font-size="10" text-anchor="end" fill="#111" stroke="#111" stroke-width="0.2">1.0</text>
<line x1="345.9" y1="367.8" x2="348.4" y2="367.8" stroke="#222" stroke-width="1"/>
<text x="344.79999999999995" y="370.7" font-family='"Liberation Serif", serif' font-weight="bold" font-size="10" text-anchor="end" fill="#111" stroke="#111" stroke-width="0.2">0.5</text>
<text x="362.9" y="410.1" font-family='"Liberation Serif", serif' font-weight="bold" font-size="9.5" text-anchor="middle" fill="#111" stroke="#111" stroke-width="0.25">UO</text>
<text x="385.6" y="410.1" font-family='"Liberation Serif", serif' font-weight="bold" font-size="9.5" text-anchor="middle" fill="#111" stroke="#111" stroke-width="0.25">UO</text>
<text x="386.2" y="419.2" font-family='"Liberation Serif", serif' font-weight="bold" font-size="9.5" text-anchor="middle" fill="#111" stroke="#111" stroke-width="0.25">αNF</text>
<text x="410" y="410.1" font-family='"Liberation Serif", serif' font-weight="bold" font-size="9.5" text-anchor="middle" fill="#111" stroke="#111" stroke-width="0.25">αNF</text>
<text x="480.5" y="302.6" font-family='"Liberation Serif", serif' font-style="italic" font-size="10.5" text-anchor="middle" fill="#222">RUNX3</text>
<rect x="454.7" y="327.7" width="8.900000000000034" height="71.80000000000001" fill="#000" stroke="#111" stroke-width="1"/>
<line x1="482.5" y1="334.3" x2="482.5" y2="321.5" stroke="#1a1a1a" stroke-width="1.1"/>
<path d="M480.9,321.4 L484.1,321.4 L483.22,322.8 L481.78,322.8 Z" fill="#1a1a1a"/>
<rect x="477.8" y="334.8" width="9.0" height="64.69999999999999" fill="#626262" stroke="#111" stroke-width="1"/>
<line x1="505.5" y1="341.5" x2="505.5" y2="327.8" stroke="#1a1a1a" stroke-width="1.1"/>
<path d="M503.9,327.7 L507.1,327.7 L506.22,329.1 L504.78,329.1 Z" fill="#1a1a1a"/>
<rect x="501.0" y="342.0" width="9.0" height="57.5" fill="#fff"/>
<rect x="503" y="342.0" width="1" height="57.5" fill="#959595"/>
<rect x="505" y="342.0" width="1" height="57.5" fill="#a5a5a5"/>
<rect x="507" y="342.0" width="1" height="57.5" fill="#b8b8b8"/>
<rect x="501.0" y="342.0" width="9.0" height="57.5" fill="none" stroke="#111" stroke-width="1"/>
<polygon points="505.50,316.20 506.11,317.96 507.97,318.00 506.49,319.12 507.03,320.90 505.50,319.84 503.97,320.90 504.51,319.12 503.03,318.00 504.89,317.96" fill="#111"/>
<rect x="444.6" y="306.1" width="72.60000000000002" height="93.39999999999998" fill="none" stroke="#222" stroke-width="1.3"/>
<line x1="442.1" y1="327.7" x2="444.6" y2="327.7" stroke="#222" stroke-width="1"/>
<text x="440.20000000000005" y="330.59999999999997" font-family='"Liberation Serif", serif' font-weight="bold" font-size="10" text-anchor="end" fill="#111" stroke="#111" stroke-width="0.2">1.0</text>
<text x="458.9" y="410.1" font-family='"Liberation Serif", serif' font-weight="bold" font-size="9.5" text-anchor="middle" fill="#111" stroke="#111" stroke-width="0.25">UO</text>
<text x="483.5" y="410.1" font-family='"Liberation Serif", serif' font-weight="bold" font-size="9.5" text-anchor="middle" fill="#111" stroke="#111" stroke-width="0.25">UO</text>
<text x="483.8" y="419.2" font-family='"Liberation Serif", serif' font-weight="bold" font-size="9.5" text-anchor="middle" fill="#111" stroke="#111" stroke-width="0.25">αNF</text>
<text x="507.7" y="410.1" font-family='"Liberation Serif", serif' font-weight="bold" font-size="9.5" text-anchor="middle" fill="#111" stroke="#111" stroke-width="0.25">αNF</text>
<text x="388.3" y="431.3" font-family='"Liberation Serif", serif' font-style="italic" font-size="10.5" text-anchor="middle" fill="#222">IDO1</text>
<rect x="361.4" y="481.5" width="8.800000000000011" height="45.39999999999998" fill="#000" stroke="#111" stroke-width="1"/>
<line x1="388.5" y1="475.6" x2="388.5" y2="448.0" stroke="#1a1a1a" stroke-width="1.1"/>
<path d="M386.9,447.9 L390.1,447.9 L389.22,449.3 L387.78,449.3 Z" fill="#1a1a1a"/>
<rect x="384.0" y="476.1" width="8.300000000000011" height="50.799999999999955" fill="#626262" stroke="#111" stroke-width="1"/>
<line x1="410.5" y1="510" x2="410.5" y2="492.3" stroke="#1a1a1a" stroke-width="1.1"/>
<path d="M408.9,492.2 L412.1,492.2 L411.22,493.6 L409.78,493.6 Z" fill="#1a1a1a"/>
<rect x="406.3" y="510.5" width="9.0" height="16.399999999999977" fill="#fff"/>
<rect x="408" y="510.5" width="1" height="16.399999999999977" fill="#959595"/>
<rect x="410" y="510.5" width="1" height="16.399999999999977" fill="#a5a5a5"/>
<rect x="413" y="510.5" width="1" height="16.399999999999977" fill="#b8b8b8"/>
<rect x="406.3" y="510.5" width="9.0" height="16.399999999999977" fill="none" stroke="#111" stroke-width="1"/>
<polygon points="410.80,478.90 411.41,480.66 413.27,480.70 411.79,481.82 412.33,483.60 410.80,482.54 409.27,483.60 409.81,481.82 408.33,480.70 410.19,480.66" fill="#111"/>
<rect x="350.5" y="434.5" width="72.89999999999998" height="92.39999999999998" fill="none" stroke="#222" stroke-width="1.3"/>
<line x1="348.0" y1="457.7" x2="350.5" y2="457.7" stroke="#222" stroke-width="1"/>
<text x="345.6" y="460.59999999999997" font-family='"Liberation Serif", serif' font-weight="bold" font-size="10" text-anchor="end" fill="#111" stroke="#111" stroke-width="0.2">1.5</text>
<line x1="348.0" y1="481" x2="350.5" y2="481" stroke="#222" stroke-width="1"/>
<text x="345.6" y="483.9" font-family='"Liberation Serif", serif' font-weight="bold" font-size="10" text-anchor="end" fill="#111" stroke="#111" stroke-width="0.2">1.0</text>
<line x1="348.0" y1="503.9" x2="350.5" y2="503.9" stroke="#222" stroke-width="1"/>
<text x="345.6" y="506.79999999999995" font-family='"Liberation Serif", serif' font-weight="bold" font-size="10" text-anchor="end" fill="#111" stroke="#111" stroke-width="0.2">0.5</text>
<text x="367.2" y="537.6" font-family='"Liberation Serif", serif' font-weight="bold" font-size="9.5" text-anchor="middle" fill="#111" stroke="#111" stroke-width="0.25">UO</text>
<text x="390.4" y="537.6" font-family='"Liberation Serif", serif' font-weight="bold" font-size="9.5" text-anchor="middle" fill="#111" stroke="#111" stroke-width="0.25">UO</text>
<text x="391.2" y="546.8" font-family='"Liberation Serif", serif' font-weight="bold" font-size="9.5" text-anchor="middle" fill="#111" stroke="#111" stroke-width="0.25">αNF</text>
<text x="414.1" y="537.6" font-family='"Liberation Serif", serif' font-weight="bold" font-size="9.5" text-anchor="middle" fill="#111" stroke="#111" stroke-width="0.25">αNF</text>
<text x="481.5" y="432" font-family='"Liberation Serif", serif' font-style="italic" font-size="10.5" text-anchor="middle" fill="#222">ITGB7</text>
<rect x="455.5" y="465.7" width="8.899999999999977" height="61.19999999999999" fill="#000" stroke="#111" stroke-width="1"/>
<line x1="482.5" y1="492.9" x2="482.5" y2="478.5" stroke="#1a1a1a" stroke-width="1.1"/>
<path d="M480.9,478.4 L484.1,478.4 L483.22,479.8 L481.78,479.8 Z" fill="#1a1a1a"/>
<rect x="478.1" y="493.4" width="8.199999999999989" height="33.5" fill="#626262" stroke="#111" stroke-width="1"/>
<polygon points="482.20,466.20 482.81,467.96 484.67,468.00 483.19,469.12 483.73,470.90 482.20,469.84 480.67,470.90 481.21,469.12 479.73,468.00 481.59,467.96" fill="#111"/>
<line x1="504.5" y1="512.7" x2="504.5" y2="498.1" stroke="#1a1a1a" stroke-width="1.1"/>
<path d="M502.9,498.0 L506.1,498.0 L505.22,499.40000000000003 L503.78,499.40000000000003 Z" fill="#1a1a1a"/>
<rect x="500.1" y="513.2" width="8.399999999999977" height="13.699999999999932" fill="#fff"/>
<rect x="502" y="513.2" width="1" height="13.699999999999932" fill="#959595"/>
<rect x="504" y="513.2" width="1" height="13.699999999999932" fill="#a5a5a5"/>
<rect x="506" y="513.2" width="1" height="13.699999999999932" fill="#b8b8b8"/>
<rect x="500.1" y="513.2" width="8.399999999999977" height="13.699999999999932" fill="none" stroke="#111" stroke-width="1"/>
<polygon points="504.30,483.40 504.91,485.16 506.77,485.20 505.29,486.32 505.83,488.10 504.30,487.04 502.77,488.10 503.31,486.32 501.83,485.20 503.69,485.16" fill="#111"/>
<rect x="445" y="434.4" width="72.60000000000002" height="92.5" fill="none" stroke="#222" stroke-width="1.3"/>
<line x1="442.5" y1="465.7" x2="445" y2="465.7" stroke="#222" stroke-width="1"/>
<text x="441.4" y="468.59999999999997" font-family='"Liberation Serif", serif' font-weight="bold" font-size="10" text-anchor="end" fill="#111" stroke="#111" stroke-width="0.2">1.0</text>
<line x1="442.5" y1="496" x2="445" y2="496" stroke="#222" stroke-width="1"/>
<text x="441.4" y="498.9" font-family='"Liberation Serif", serif' font-weight="bold" font-size="10" text-anchor="end" fill="#111" stroke="#111" stroke-width="0.2">0.5</text>
<text x="460.3" y="537.6" font-family='"Liberation Serif", serif' font-weight="bold" font-size="9.5" text-anchor="middle" fill="#111" stroke="#111" stroke-width="0.25">UO</text>
<text x="484.3" y="537.6" font-family='"Liberation Serif", serif' font-weight="bold" font-size="9.5" text-anchor="middle" fill="#111" stroke="#111" stroke-width="0.25">UO</text>
<text x="484.7" y="546.8" font-family='"Liberation Serif", serif' font-weight="bold" font-size="9.5" text-anchor="middle" fill="#111" stroke="#111" stroke-width="0.25">αNF</text>
<text x="507.6" y="537.6" font-family='"Liberation Serif", serif' font-weight="bold" font-size="9.5" text-anchor="middle" fill="#111" stroke="#111" stroke-width="0.25">αNF</text>
<text x="0" y="0" transform="translate(19.7,72) rotate(-90)" font-family='"Liberation Serif", serif' font-weight="bold" font-size="10.8" text-anchor="middle" dominant-baseline="central" fill="#111" stroke="#111" stroke-width="0.2">Relative expression</text>
<text x="0" y="0" transform="translate(19.7,207) rotate(-90)" font-family='"Liberation Serif", serif' font-weight="bold" font-size="10.8" text-anchor="middle" dominant-baseline="central" fill="#111" stroke="#111" stroke-width="0.2">Relative expression</text>
<text x="0" y="0" transform="translate(142,352) rotate(-90)" font-family='"Liberation Serif", serif' font-weight="bold" font-size="10.8" text-anchor="middle" dominant-baseline="central" fill="#111" stroke="#111" stroke-width="0.2">Relative expression</text>
<text x="0" y="0" transform="translate(144.3,480) rotate(-90)" font-family='"Liberation Serif", serif' font-weight="bold" font-size="10.8" text-anchor="middle" dominant-baseline="central" fill="#111" stroke="#111" stroke-width="0.2">Relative expression</text>
<text x="0" y="0" transform="translate(321.3,352.5) rotate(-90)" font-family='"Liberation Serif", serif' font-weight="bold" font-size="10.8" text-anchor="middle" dominant-baseline="central" fill="#111" stroke="#111" stroke-width="0.2">Relative expression</text>
<text x="0" y="0" transform="translate(319.8,479.5) rotate(-90)" font-family='"Liberation Serif", serif' font-weight="bold" font-size="10.8" text-anchor="middle" dominant-baseline="central" fill="#111" stroke="#111" stroke-width="0.2">Relative expression</text>
<text x="15.4" y="13.9" font-family='"Liberation Sans", sans-serif' font-weight="bold" font-size="18" fill="#000">A</text>
<text x="13.8" y="150.6" font-family='"Liberation Sans", sans-serif' font-weight="bold" font-size="18" fill="#000">B</text>
<text x="0.3" y="352" font-family='"Liberation Sans", sans-serif' font-weight="bold" font-size="18" fill="#000">C</text>
<text x="135.8" y="294.4" font-family='"Liberation Sans", sans-serif' font-weight="bold" font-size="18" fill="#000">D</text>
<text x="319.2" y="294.4" font-family='"Liberation Sans", sans-serif' font-weight="bold" font-size="18" fill="#000">E</text>
<text x="37" y="362.3" font-family='"Liberation Serif", serif' font-weight="bold" font-size="9.5" text-anchor="end" fill="#111" stroke="#111" stroke-width="0.25">UO</text>
<text x="38" y="372.5" font-family='"Liberation Serif", serif' font-weight="bold" font-size="9.5" text-anchor="end" fill="#111" stroke="#111" stroke-width="0.25">αNF</text>
<rect x="46.5" y="357.9" width="3" height="1.2" fill="#222"/>
<rect x="46.5" y="368.4" width="3" height="1.2" fill="#222"/>
<rect x="64.1" y="357.9" width="4" height="1.2" fill="#222"/><rect x="65.5" y="356.5" width="1.2" height="4" fill="#222"/>
<rect x="64.6" y="368.4" width="3" height="1.2" fill="#222"/>
<rect x="81.6" y="357.9" width="4" height="1.2" fill="#222"/><rect x="83.0" y="356.5" width="1.2" height="4" fill="#222"/>
<rect x="81.6" y="368.4" width="4" height="1.2" fill="#222"/><rect x="83.0" y="367" width="1.2" height="4" fill="#222"/>
<rect x="99.8" y="357.9" width="3" height="1.2" fill="#222"/>
<rect x="99.3" y="368.4" width="4" height="1.2" fill="#222"/><rect x="100.7" y="367" width="1.2" height="4" fill="#222"/>
<defs><filter id="bb" x="-30%" y="-80%" width="160%" height="260%"><feGaussianBlur stdDeviation="0.95"/></filter></defs>
<rect x="39.8" y="378.2" width="71.2" height="19.400000000000034" fill="#747474" stroke="#1a1a1a" stroke-width="1"/>
<rect x="58.2" y="379.2" width="2" height="17.400000000000034" fill="#969696" filter="url(#bb)"/>
<rect x="74.7" y="379.2" width="2" height="17.400000000000034" fill="#969696" filter="url(#bb)"/>
<rect x="90.6" y="379.2" width="2" height="17.400000000000034" fill="#969696" filter="url(#bb)"/>
<rect x="43.1" y="385.8" width="14.3" height="2.599999999999966" rx="1.5" fill="rgb(48,48,48)" filter="url(#bb)"/>
<rect x="43.1" y="389.5" width="14.3" height="2.3999999999999773" rx="1.5" fill="rgb(58,58,58)" filter="url(#bb)"/>
<rect x="60.300000000000004" y="384.5" width="13.899999999999995" height="6.100000000000023" rx="1.5" fill="rgb(8,8,8)" filter="url(#bb)"/>
<rect x="77.3" y="385.6" width="12.3" height="5.199999999999989" rx="1.5" fill="rgb(14,14,14)" filter="url(#bb)"/>
<rect x="93.3" y="385.8" width="13.599999999999998" height="2.3999999999999773" rx="1.5" fill="rgb(55,55,55)" filter="url(#bb)"/>
<rect x="93.3" y="389.3" width="13.599999999999998" height="2.3999999999999773" rx="1.5" fill="rgb(62,62,62)" filter="url(#bb)"/>
<line x1="40.5" y1="396.40000000000003" x2="110.5" y2="396.40000000000003" stroke="#d8d8d8" stroke-width="0.8"/>
<text x="36" y="391.3" font-family='"Liberation Serif", serif' font-weight="bold" font-size="9.5" text-anchor="end" fill="#111" stroke="#111" stroke-width="0.25">THBS1</text>
<rect x="39.8" y="399.8" width="71.2" height="20.099999999999966" fill="#7b7b7b" stroke="#1a1a1a" stroke-width="1"/>
<rect x="58.2" y="400.8" width="2" height="18.099999999999966" fill="#969696" filter="url(#bb)"/>
<rect x="74.7" y="400.8" width="2" height="18.099999999999966" fill="#969696" filter="url(#bb)"/>
<rect x="90.6" y="400.8" width="2" height="18.099999999999966" fill="#969696" filter="url(#bb)"/>
<rect x="43.1" y="404.5" width="15.8" height="6.5" rx="1.5" fill="rgb(5,5,5)" filter="url(#bb)"/>
<rect x="61.1" y="406.5" width="13.500000000000004" height="3.8000000000000114" rx="1.5" fill="rgb(48,48,48)" filter="url(#bb)"/>
<rect x="76.8" y="405.8" width="13.599999999999998" height="5.199999999999989" rx="1.5" fill="rgb(10,10,10)" filter="url(#bb)"/>
<rect x="92.6" y="405.2" width="15.500000000000004" height="6.5" rx="1.5" fill="rgb(6,6,6)" filter="url(#bb)"/>
<rect x="41.2" y="401.2" width="68.4" height="17.299999999999965" fill="none" stroke="#d8d8d8" stroke-width="0.8"/>
<text x="35.6" y="412.90000000000003" font-family='"Liberation Serif", serif' font-weight="bold" font-size="9.5" text-anchor="end" fill="#111" stroke="#111" stroke-width="0.25">AhR</text>
<rect x="39.8" y="423.2" width="71.2" height="21.5" fill="#7e7e7e" stroke="#1a1a1a" stroke-width="1"/>
<rect x="58.2" y="424.2" width="2" height="19.5" fill="#969696" filter="url(#bb)"/>
<rect x="74.7" y="424.2" width="2" height="19.5" fill="#969696" filter="url(#bb)"/>
<rect x="90.6" y="424.2" width="2" height="19.5" fill="#969696" filter="url(#bb)"/>
<rect x="43.4" y="431.2" width="14.700000000000006" height="5.5" rx="1.5" fill="rgb(12,12,12)" filter="url(#bb)"/>
<rect x="59.9" y="432" width="14.000000000000004" height="3.6000000000000227" rx="1.5" fill="rgb(68,68,68)" filter="url(#bb)"/>
<rect x="76.8" y="432" width="12.8" height="4.199999999999989" rx="1.5" fill="rgb(80,80,80)" filter="url(#bb)"/>
<rect x="91.39999999999999" y="430.7" width="14.700000000000006" height="6.800000000000011" rx="1.5" fill="rgb(18,18,18)" filter="url(#bb)"/>
<rect x="43.4" y="426.3" width="62.7" height="1.5" rx="1.5" fill="rgb(112,112,112)" filter="url(#bb)"/>
<rect x="41.2" y="424.59999999999997" width="68.4" height="18.7" fill="none" stroke="#d8d8d8" stroke-width="0.8"/>
<text x="36.9" y="437.0" font-family='"Liberation Serif", serif' font-weight="bold" font-size="9.5" text-anchor="end" fill="#111" stroke="#111" stroke-width="0.25">p-ERK</text>
<rect x="39.8" y="447.6" width="71.2" height="19.599999999999966" fill="#838383" stroke="#1a1a1a" stroke-width="1"/>
<rect x="58.2" y="448.6" width="2" height="17.599999999999966" fill="#969696" filter="url(#bb)"/>
<rect x="74.7" y="448.6" width="2" height="17.599999999999966" fill="#969696" filter="url(#bb)"/>
<rect x="90.6" y="448.6" width="2" height="17.599999999999966" fill="#969696" filter="url(#bb)"/>
<rect x="41.6" y="454.4" width="15.8" height="4.100000000000023" rx="1.5" fill="rgb(12,12,12)" filter="url(#bb)"/>
<rect x="58.800000000000004" y="454.4" width="14.8" height="4.100000000000023" rx="1.5" fill="rgb(18,18,18)" filter="url(#bb)"/>
<rect x="75.3" y="454.4" width="15.8" height="4.100000000000023" rx="1.5" fill="rgb(18,18,18)" filter="url(#bb)"/>
<rect x="93.3" y="454.6" width="14.3" height="4.099999999999966" rx="1.5" fill="rgb(22,22,22)" filter="url(#bb)"/>
<line x1="110.3" y1="448.6" x2="110.3" y2="466.2" stroke="#d8d8d8" stroke-width="0.8"/>
<text x="35.6" y="458.8" font-family='"Liberation Serif", serif' font-weight="bold" font-size="9.5" text-anchor="end" fill="#111" stroke="#111" stroke-width="0.25">GAPDH</text>
</svg>
</body></html>
